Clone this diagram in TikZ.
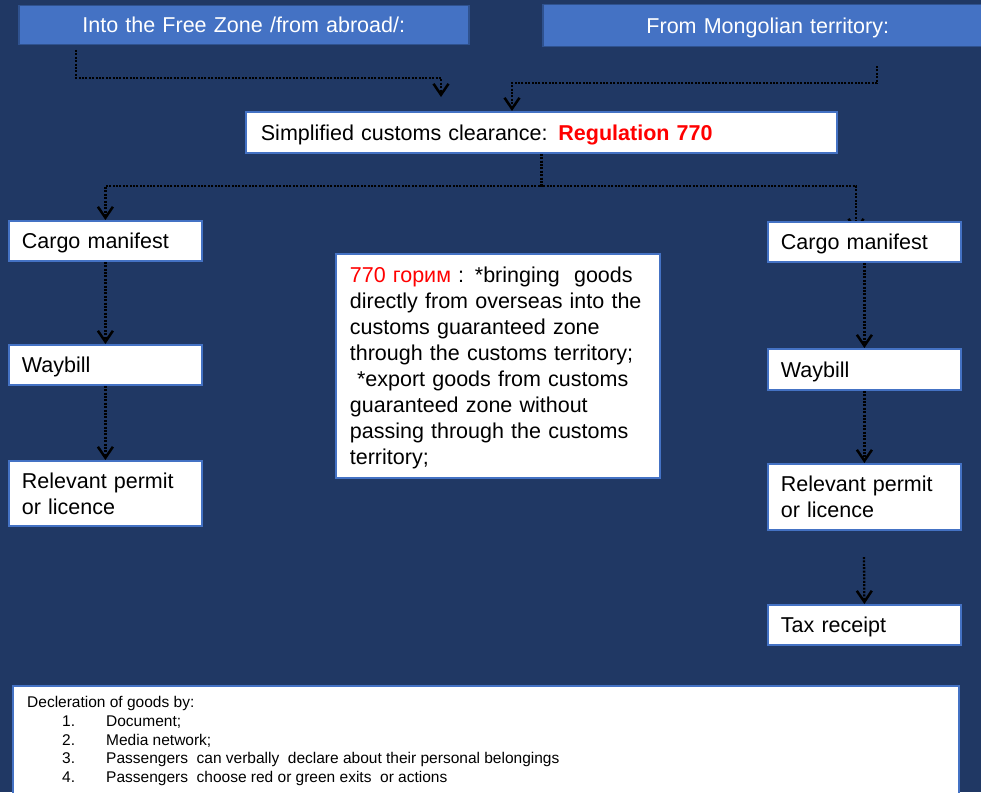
\documentclass[tikz,border=0pt]{standalone}
\usepackage{fontspec}
\setmainfont{Liberation Sans}
\usetikzlibrary{arrows.meta,calc}
\definecolor{bgblue}{HTML}{203864}
\definecolor{topblue}{HTML}{4472C4}
\definecolor{topedge}{HTML}{2F528F}
\definecolor{boxedge}{HTML}{4472C4}
\definecolor{regred}{HTML}{FF0000}
\newcommand{\lnstrut}{\rule[-5pt]{0pt}{25.5pt}}
\pgfdeclarelayer{bg}
\pgfsetlayers{bg,main}
\begin{document}
\begin{tikzpicture}[x=1pt,y=-1pt,
  mainfont/.style={font=\fontsize{21.5}{26}\selectfont},
  topbox/.style={draw=topedge, line width=1.5pt, fill=topblue, text=white, anchor=north west, align=center, inner xsep=10pt, inner ysep=0pt, mainfont},
  wbox/.style={draw=boxedge, line width=1.8pt, fill=white, text=black, anchor=north west, align=left, inner xsep=13pt, inner ysep=0pt, mainfont},
  conn/.style={line width=2.3pt, black, dash pattern=on 2pt off 1.4pt},
  arr/.style={-{Straight Barb[length=11pt,width=15pt,line width=2.5pt]}}
]
\useasboundingbox (0,0) rectangle (981,792);

\node[topbox, text width=430pt, minimum height=39pt] (A) at (18,5) {\lnstrut Into the Free Zone /from abroad/:};
\node[topbox, text width=430pt, minimum height=42pt] (B) at (542,4) {\lnstrut From Mongolian territory:};
\node[wbox, inner xsep=15pt, text width=561pt, minimum height=41pt] (S) at (245,111) {\lnstrut Simplified customs clearance: \textcolor{regred}{\bfseries Regulation 770}};

\node[wbox, text width=167pt, minimum height=40pt] (LC) at (8,220) {\lnstrut Cargo manifest};
\node[wbox, text width=167pt, minimum height=40pt] (LW) at (8,344) {\lnstrut Waybill};
\node[wbox, text width=167pt, minimum height=65pt] (LR) at (8,460) {\lnstrut Relevant permit\\\lnstrut or licence};

\node[wbox, text width=167pt, minimum height=40pt] (RC) at (767,221) {\lnstrut Cargo manifest};
\node[wbox, text width=167pt, minimum height=41pt] (RW) at (767,348) {\lnstrut Waybill};
\node[wbox, text width=167pt, minimum height=66pt] (RR) at (767,463) {\lnstrut Relevant permit\\\lnstrut or licence};
\node[wbox, text width=167pt, minimum height=40pt] (RT) at (767,604) {\lnstrut Tax receipt};

\node[wbox, inner xsep=14pt, text width=296pt, minimum height=224pt] (M) at (335,253) {\lnstrut\textcolor{regred}{770 горим} : *bringing\ \ goods\\directly from overseas into the\\customs guaranteed zone\\through the customs territory;\\\ *export goods from customs\\guaranteed zone without\\passing through the customs\\\lnstrut territory;};

\node[wbox, minimum width=946pt, minimum height=130pt] (D) at (12,685) {};
\node[anchor=north west, inner sep=0pt, align=left, text=black, font=\fontsize{15.5}{18.8}\selectfont] (DT) at (27,696) {Decleration of goods by:\\
\hspace*{35pt}\makebox[44pt][l]{1.}Document;\\
\hspace*{35pt}\makebox[44pt][l]{2.}Media network;\\
\hspace*{35pt}\makebox[44pt][l]{3.}Passengers\ \ can verbally\ \ declare about their personal belongings\\
\hspace*{35pt}\makebox[44pt][l]{4.}Passengers\ \ choose red or green exits\ \ or actions};

\coordinate (a1) at (76,50);
\coordinate (a2) at (441,97);
\coordinate (b1) at (877,66);
\coordinate (b2) at (512,111);
\coordinate (rcin) at (856,232);
\coordinate (rr1) at (864,557);

\begin{pgfonlayer}{bg}
\fill[bgblue] (0,0) rectangle (981,792);
\draw[conn,arr] (a1) -- (a1 |- 0,78) -| (a2);
\draw[conn,arr] (b1) -- (b1 |- 0,83) -| (b2);
\draw[conn,arr] (S.south) -- (S.south |- 0,186) -| (LC.north);
\draw[conn,arr] (S.south) -- (S.south |- 0,186) -| (rcin);
\draw[conn,arr] (LC.south) -- (LW.north);
\draw[conn,arr] (LW.south) -- (LR.north);
\draw[conn,arr] (RC.south) -- (RW.north);
\draw[conn,arr] (RW.south) -- (RR.north);
\draw[conn,arr] (rr1) -- (RT.north);
\end{pgfonlayer}
\end{tikzpicture}
\end{document}
